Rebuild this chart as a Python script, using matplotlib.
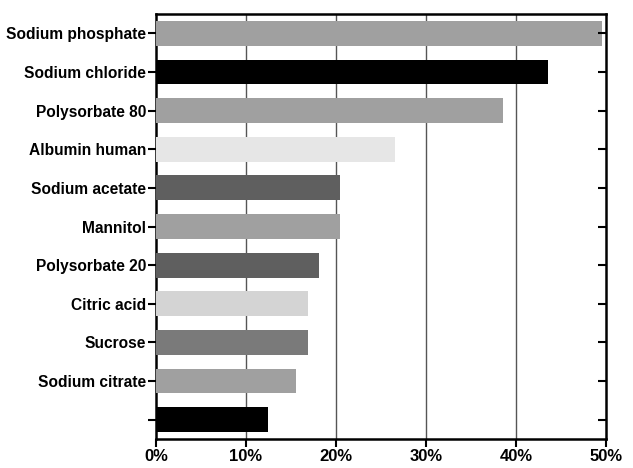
import matplotlib
matplotlib.use("Agg")
import matplotlib.pyplot as plt

categories = ["Sodium phosphate", "Sodium chloride", "Polysorbate 80", "Albumin human",
              "Sodium acetate", "Mannitol", "Polysorbate 20", "Citric acid",
              "Sucrose", "Sodium citrate", ""]
values = [49.6, 43.5, 38.6, 26.5, 20.4, 20.4, 18.1, 16.9, 16.9, 15.6, 12.4]
colors = ["#a0a0a0", "#000000", "#a0a0a0", "#e6e6e6", "#5f5f5f", "#a0a0a0",
          "#5f5f5f", "#d4d4d4", "#7a7a7a", "#a0a0a0", "#000000"]
xticks = [0, 10, 20, 30, 40, 50]
xtick_labels = ["0%", "10%", "20%", "30%", "40%", "50%"]

plt.rcParams['font.family'] = ['Liberation Sans', 'DejaVu Sans']

fig = plt.figure(figsize=(6.33, 4.68), dpi=100)
ax = fig.add_axes([0.2464, 0.062, 0.7110, 0.908])

pos = list(range(len(categories)))
ax.barh(pos, values, height=0.645, color=colors, zorder=3)
ax.set_ylim(len(categories) - 0.5, -0.5)
ax.set_xlim(0, 50)

for x in xticks[1:-1]:
    ax.axvline(x, color="#555555", linewidth=1.0, zorder=1)

ax.set_yticks(pos)
ax.set_yticklabels(categories, fontsize=11.2, fontweight="bold")
ax.set_xticks(xticks)
ax.set_xticklabels(xtick_labels, fontsize=12, fontweight="bold")

for s in ax.spines.values():
    s.set_linewidth(1.8)
    s.set_color("black")

ax.tick_params(axis="y", left=True, right=False, direction="out",
               length=6, width=1.5, pad=1)
ax.tick_params(axis="x", bottom=True, direction="out", length=6, width=1.5, pad=1.5)

ax2 = ax.twinx()
ax2.set_ylim(ax.get_ylim())
ax2.set_yticks(pos)
ax2.set_yticklabels([])
ax2.tick_params(axis="y", direction="in", length=6, width=1.5)
for s in ax2.spines.values():
    s.set_visible(False)

fig.savefig("out.png", dpi=100)
